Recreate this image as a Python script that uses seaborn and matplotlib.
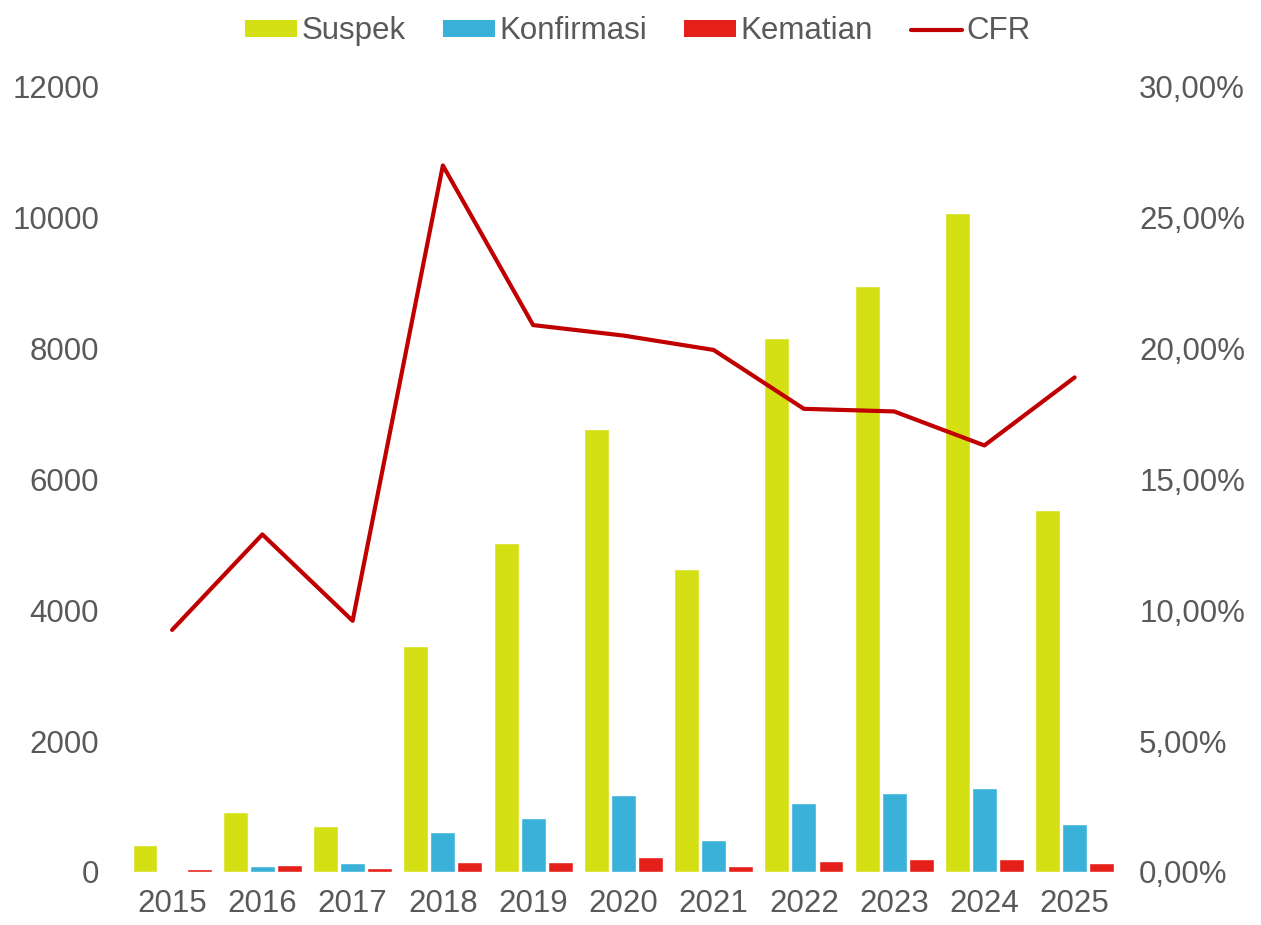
import matplotlib
matplotlib.use("Agg")
import matplotlib.pyplot as plt
import seaborn as sns
import pandas as pd
from matplotlib.ticker import FuncFormatter
from matplotlib.patches import Patch
from matplotlib.lines import Line2D

years = ["2015", "2016", "2017", "2018", "2019", "2020", "2021", "2022", "2023", "2024", "2025"]
suspek = [410, 910, 710, 3460, 5030, 6770, 4630, 8170, 8960, 10080, 5540]
konfirmasi = [15, 90, 140, 610, 820, 1180, 490, 1050, 1210, 1290, 740]
kematian = [40, 100, 60, 160, 160, 230, 90, 170, 200, 200, 130]
cfr = [9.25, 12.9, 9.6, 27.0, 20.9, 20.5, 19.95, 17.7, 17.6, 16.3, 18.9]

series_names = ["Suspek", "Konfirmasi", "Kematian"]
colors = ["#D4DF14", "#3AB1D8", "#E5201B"]
line_color = "#C00000"
text_color = "#595959"

sns.set_theme(style="white")
plt.rcParams["font.family"] = ["Liberation Sans", "DejaVu Sans"]

df = pd.DataFrame({
    "Tahun": years * 3,
    "Seri": [s for s in series_names for _ in years],
    "Nilai": suspek + konfirmasi + kematian,
})

fs = 22.5
fig = plt.figure(figsize=(12.61, 9.25), dpi=100)
ax = fig.add_axes([0.1007, 0.0573, 0.7873, 0.8487])
sns.barplot(data=df, x="Tahun", y="Nilai", hue="Seri", palette=colors,
            width=0.9, gap=0.08, ax=ax, legend=False, saturation=1)
ax.set_ylim(0, 12000)
ax.set_yticks(range(0, 12001, 2000))
ax.set_xlim(-0.5, len(years) - 0.5)
ax.set_xlabel("")
ax.set_ylabel("")
for s in ax.spines.values():
    s.set_visible(False)
ax.tick_params(axis="y", length=0, pad=20, labelsize=fs, labelcolor=text_color)
ax.tick_params(axis="x", length=0, pad=12, labelsize=fs, labelcolor=text_color)

ax2 = ax.twinx()
sns.lineplot(x=list(range(len(years))), y=cfr, ax=ax2, color=line_color, linewidth=3.0)
ax2.set_ylim(0, 30)
ax2.set_yticks(range(0, 31, 5))
ax2.yaxis.set_major_formatter(FuncFormatter(lambda v, p: f"{v:.2f}".replace(".", ",") + "%"))
for s in ax2.spines.values():
    s.set_visible(False)
ax2.tick_params(axis="y", length=0, pad=14, labelsize=fs, labelcolor=text_color)
ax2.set_ylabel("")
ax2.grid(False)
ax.grid(False)

handles = [Patch(facecolor=c, edgecolor="none") for c in colors]
handles.append(Line2D([0], [0], color=line_color, linewidth=3.0))
leg = fig.legend(handles, series_names + ["CFR"], loc="center", bbox_to_anchor=(0.506, 0.966),
                 ncol=4, frameon=False, fontsize=fs, handlelength=1.65, handleheight=0.45,
                 handletextpad=0.15, columnspacing=1.2)
for t in leg.get_texts():
    t.set_color(text_color)

fig.savefig("out.png", dpi=100)
